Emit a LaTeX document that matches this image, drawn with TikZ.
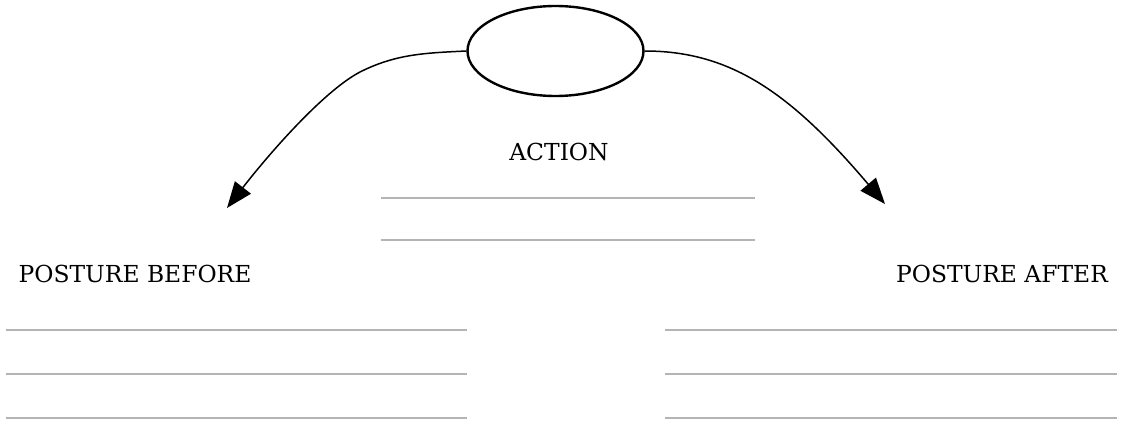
\documentclass[tikz,border=0pt]{standalone}
\usepackage{fontspec}
\setmainfont{DejaVu Serif}
\usetikzlibrary{arrows.meta,shapes.geometric}
\definecolor{rulegray}{HTML}{B4B4B4}
\begin{document}
\begin{tikzpicture}[x=.5pt,y=-.5pt,line width=.75pt,font=\fontsize{11.7}{14}\selectfont,
  >={Triangle[length=13pt,width=10pt]},
  writeline/.style={draw=rulegray,line width=.9pt}]
  \useasboundingbox (0,0) rectangle (1121,423);
  \node[draw,ellipse,line width=1.2pt,minimum width=88pt,minimum height=45pt,inner sep=0pt] (act) at (555.5,51) {};
  \coordinate (bendl) at (362,71);
  \coordinate (tipl) at (227,208);
  \coordinate (tipr) at (885,204);
  \draw[->] (act.west) .. controls (425,53) and (397,54) .. (bendl)
    .. controls (327,88) and (272,150) .. (tipl);
  \draw[->] (act.east) .. controls (730,51) and (790,92) .. (tipr);
  \node (action) at (559,152) {ACTION};
  \node (before) at (135,274) {POSTURE BEFORE};
  \node (after) at (1002,274) {POSTURE AFTER};
  \foreach \y in {198,240}
    \draw[writeline] (381,\y) -- (755,\y);
  \foreach \y in {330,374,418} {
    \draw[writeline] (6,\y) -- (467,\y);
    \draw[writeline] (665,\y) -- (1117,\y);
  }
\end{tikzpicture}
\end{document}
